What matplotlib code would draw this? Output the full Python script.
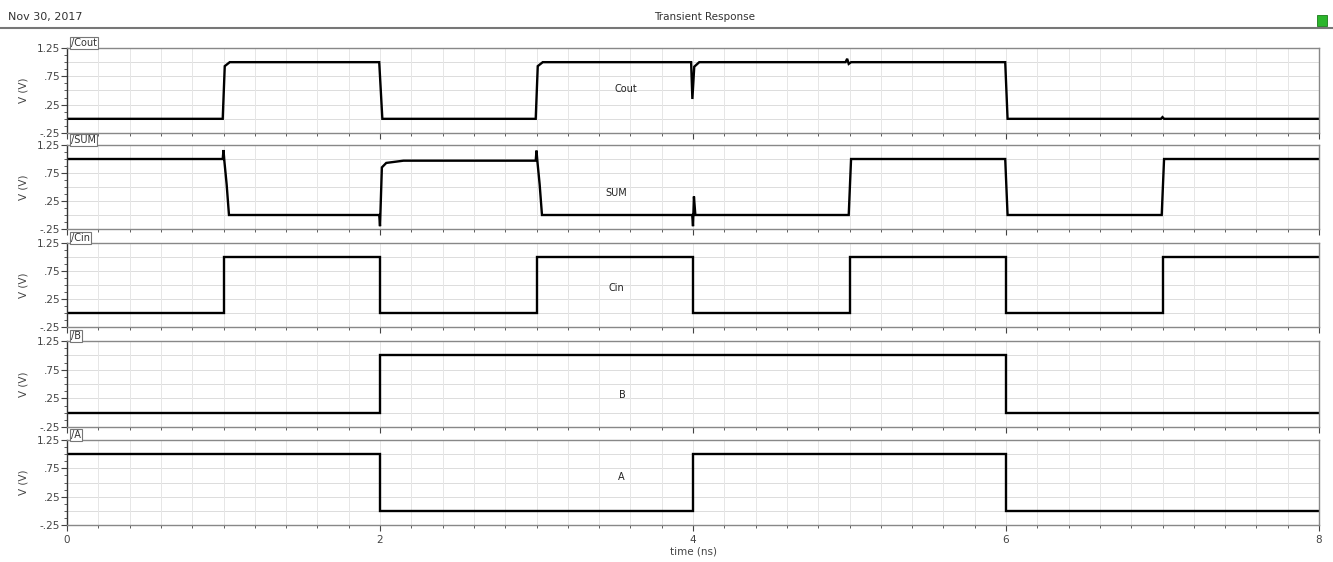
import matplotlib.pyplot as plt
import matplotlib.patches as mpatches
from matplotlib.ticker import MultipleLocator, FixedLocator

# signal data (time in ns, voltage in V)
cout_t = [0, 0.995, 1.008, 1.04, 1.995, 2.015, 2.995, 3.008, 3.04, 3.988, 3.996, 4.008, 4.04,
          4.975, 4.985, 4.995, 5.01, 5.995, 6.01, 6.99, 7.0, 7.01, 8]
cout_v = [0, 0, 0.93, 1.0, 1.0, 0, 0, 0.93, 1.0, 1.0, 0.35, 0.92, 1.0,
          1.0, 1.06, 0.97, 1.0, 1.0, 0, 0, 0.03, 0, 0]

sum_t = [0, 0.995, 1.0, 1.006, 1.02, 1.035, 1.995, 2.0, 2.012, 2.04, 2.15, 2.995, 3.0,
         3.006, 3.02, 3.035, 3.995, 4.0, 4.006, 4.015, 4.995, 5.01, 5.995, 6.01, 6.995, 7.01, 8]
sum_v = [1.0, 1.0, 1.16, 0.95, 0.55, 0, 0, -0.2, 0.85, 0.93, 0.97, 0.97, 1.15,
         0.95, 0.55, 0, 0, -0.2, 0.33, 0, 0, 1.0, 1.0, 0, 0, 1.0, 1.0]

cin_t = [0, 1, 1, 2, 2, 3, 3, 4, 4, 5, 5, 6, 6, 7, 7, 8]
cin_v = [0, 0, 1, 1, 0, 0, 1, 1, 0, 0, 1, 1, 0, 0, 1, 1]

b_t = [0, 2, 2, 6, 6, 8]
b_v = [0, 0, 1, 1, 0, 0]

a_t = [0, 2, 2, 4, 4, 6, 6, 8]
a_v = [1, 1, 0, 0, 1, 1, 0, 0]

names = ['Cout', 'SUM', 'Cin', 'B', 'A']
tabs = ['/Cout', '/SUM', '/Cin', '/B', '/A']
x_ticks = [0, 2, 4, 6, 8]
y_ticks = [-0.25, 0.25, 0.75, 1.25]
y_tick_labels = ['-.25', '.25', '.75', '1.25']

signals = [(cout_t, cout_v), (sum_t, sum_v), (cin_t, cin_v), (b_t, b_v), (a_t, a_v)]

W, H = 1333, 562
fig = plt.figure(figsize=(W / 100, H / 100), dpi=100)
plt.rcParams['font.family'] = ['DejaVu Sans']

# panel pixel extents (top, bottom)
panels_px = [(48, 133), (145, 229), (243, 327), (341, 427), (440, 525)]
label_pos = [(3.57, 0.53), (3.51, 0.40), (3.51, 0.44), (3.55, 0.30), (3.54, 0.60)]
left_px, right_px = 67, 1319

for i, (top, bot) in enumerate(panels_px):
    ax = fig.add_axes([left_px / W, 1 - bot / H, (right_px - left_px) / W, (bot - top) / H])
    t, v = signals[i]
    ax.plot(t, v, color='black', lw=1.7, solid_joinstyle='miter')
    ax.set_xlim(0, 8)
    ax.set_ylim(-0.25, 1.25)
    ax.xaxis.set_minor_locator(MultipleLocator(0.2))
    ax.set_xticks(x_ticks)
    ax.yaxis.set_major_locator(FixedLocator(y_ticks))
    ax.set_yticklabels(y_tick_labels)
    ax.yaxis.set_minor_locator(MultipleLocator(0.125))
    ax.grid(True, which='both', axis='x', color='#e6e6e6', lw=0.7)
    for yy in [0, 0.25, 0.5, 0.75, 1.0]:
        ax.axhline(yy, color='#dcdcdc', lw=0.7, zorder=0)
    ax.tick_params(axis='y', which='major', labelsize=7.5, length=4, colors='#444444', pad=1)
    ax.tick_params(axis='y', which='minor', length=2, colors='#444444')
    ax.tick_params(axis='x', which='major', length=4, colors='#444444', labelsize=7.5)
    ax.tick_params(axis='x', which='minor', length=2, colors='#444444')
    for s in ax.spines.values():
        s.set_color('#888888')
        s.set_linewidth(1.0)
    ax.spines['left'].set_color('#333333')
    ax.set_ylabel('V (V)', fontsize=7.5, color='#444444', labelpad=6)
    ax.text(label_pos[i][0], label_pos[i][1], names[i], fontsize=7, ha='center', va='center', color='#222222')
    ax.text(0.003, 1.0, tabs[i], transform=ax.transAxes, fontsize=7, va='bottom', ha='left',
            color='#333333',
            bbox=dict(boxstyle='square,pad=0.1', facecolor='white', edgecolor='#777777', lw=0.8))
    if i < len(panels_px) - 1:
        ax.tick_params(axis='x', which='both', labelbottom=False)
    else:
        ax.set_xlabel('time (ns)', fontsize=7.5, color='#444444', labelpad=1)

# header
fig.text(8 / W, 1 - 17 / H, 'Nov 30, 2017', fontsize=8, va='center', ha='left', color='#333333')
fig.text(705 / W, 1 - 17 / H, 'Transient Response', fontsize=7.5, va='center', ha='center', color='#333333')
fig.add_artist(plt.Line2D([0, 1], [1 - 28 / H, 1 - 28 / H], color='#777777', lw=1.5))
fig.add_artist(mpatches.Rectangle((1317 / W, 1 - 26 / H), 10 / W, 11 / H, facecolor='#2bb52b',
                                  edgecolor='#1a7a1a', lw=0.6))

plt.savefig('out.png', dpi=100)
